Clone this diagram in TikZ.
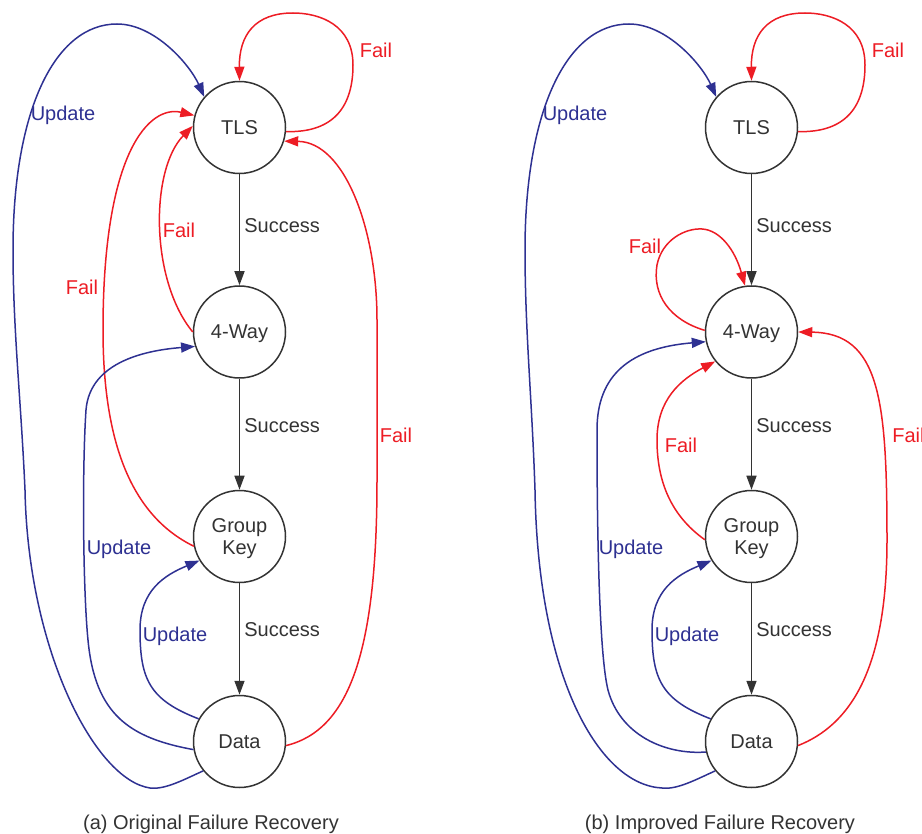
\documentclass[tikz,border=0pt]{standalone}
\usepackage{fontspec}
\setmainfont{Liberation Sans}
\usetikzlibrary{arrows.meta}
\definecolor{ublue}{RGB}{46,49,146}
\definecolor{fred}{RGB}{237,28,36}
\definecolor{ink}{RGB}{51,51,51}
\begin{document}
\begin{tikzpicture}[x=0.5pt,y=-0.5pt,
  state/.style={circle,draw=ink,line width=0.75pt,minimum size=46pt,inner sep=0pt,text=ink,font=\fontsize{10}{11}\selectfont,align=center,text depth=0pt},
  lbl/.style={font=\fontsize{10}{12}\selectfont,text height=7.2pt,text depth=0pt,inner sep=0pt},
  tip/.style={-{Triangle[length=7pt,width=5pt]}},
  succ/.style={draw=ink,line width=0.75pt,tip},
  upd/.style={draw=ublue,line width=0.75pt,tip},
  fail/.style={draw=fred,line width=0.75pt,tip},
  sl/.style={lbl,text=ink,anchor=west},
  ul/.style={lbl,text=ublue},
  fl/.style={lbl,text=fred}]
\useasboundingbox (0,0) rectangle (922,834);

% ---------- (a) ----------
\node[state] (aT) at (239.5,127.5) {TLS};
\node[state] (a4) at (239.5,332) {4-Way};
\node[state] (aG) at (239.5,536.5) {Group\\Key};
\node[state] (aD) at (239.5,741.5) {Data};

\draw[succ] (aT) -- (a4);
\draw[succ] (a4) -- (aG);
\draw[succ] (aG) -- (aD);
\node[sl] (as1) at (244,225) {Success};
\node[sl] (as2) at (244,425) {Success};
\node[sl] (as3) at (244,629) {Success};

\draw[fail] (aT.-5) .. controls (335,133) and (353,105) .. (353,65) .. controls (353,25) and (320,13) .. (293,13) .. controls (255,13) and (239,35) .. (aT.north);
\node[fl] (af1) at (376,50) {Fail};

\draw[upd] (aD.219) .. controls (185,779) and (165,790) .. (150,788) .. controls (95,780) and (28,650) .. (25,490) .. controls (21,400) and (13,330) .. (13,250) .. controls (13,110) and (55,24) .. (117,24) .. controls (155,24) and (190,65) .. (aT.139);
\node[ul] (au1) at (63,113) {Update};

\draw[fail] (aD.-5) .. controls (350,730) and (377,650) .. (377,480) -- (377,320) .. controls (377,230) and (345,142) .. (aT.-17);
\node[fl] (af2) at (396,435) {Fail};

\draw[fail] (aG.192) .. controls (130,515) and (103,440) .. (103,330) .. controls (103,150) and (150,105) .. (aT.165);
\node[fl] (af3) at (82,287) {Fail};

\draw[fail] (a4.180) .. controls (150,280) and (150,170) .. (aT.178);
\node[fl] (af4) at (179,230) {Fail};

\draw[upd] (aD.190) .. controls (130,738) and (95,715) .. (88,640) .. controls (83,590) and (82,470) .. (86,410) .. controls (90,360) and (150,350) .. (a4.198);
\node[ul] (au2) at (119,547) {Update};

\draw[upd] (aD.151) .. controls (150,700) and (140,680) .. (140,630) .. controls (140,590) and (165,575) .. (aG.211);
\node[ul] (au3) at (175,634) {Update};

\node[lbl,text=ink] (capa) at (211,822) {(a) Original Failure Recovery};

% ---------- (b) ----------
\node[state] (bT) at (751.5,127.5) {TLS};
\node[state] (b4) at (751.5,332) {4-Way};
\node[state] (bG) at (751.5,536.5) {Group\\Key};
\node[state] (bD) at (751.5,741.5) {Data};

\draw[succ] (bT) -- (b4);
\draw[succ] (b4) -- (bG);
\draw[succ] (bG) -- (bD);
\node[sl] (bs1) at (756,225) {Success};
\node[sl] (bs2) at (756,425) {Success};
\node[sl] (bs3) at (756,629) {Success};

\draw[fail] (bT.-5) .. controls (847,133) and (865,105) .. (865,65) .. controls (865,25) and (832,13) .. (805,13) .. controls (767,13) and (751,35) .. (bT.north);
\node[fl] (bf1) at (888,50) {Fail};

\draw[upd] (bD.219) .. controls (697,779) and (677,790) .. (662,788) .. controls (600,785) and (538,680) .. (535,490) .. controls (532,400) and (525,330) .. (525,250) .. controls (525,110) and (567,24) .. (629,24) .. controls (667,24) and (702,65) .. (bT.139);
\node[ul] (bu1) at (575,113) {Update};

\draw[fail] (b4.178) .. controls (670,320) and (652,295) .. (657,265) .. controls (662,240) and (685,228) .. (702,229) .. controls (720,230) and (735,250) .. (b4.98);
\node[fl] (bf2) at (645,246) {Fail};

\draw[upd] (bD.193) .. controls (665,755) and (620,735) .. (608,690) .. controls (598,650) and (597,500) .. (597,430) .. controls (597,375) and (630,348) .. (b4.192);
\node[ul] (bu2) at (631,547) {Update};

\draw[upd] (bD.151) .. controls (662,700) and (652,680) .. (652,630) .. controls (652,590) and (677,575) .. (bG.211);
\node[ul] (bu3) at (687,634) {Update};

\draw[fail] (bG.184) .. controls (670,515) and (657,480) .. (657,440) .. controls (657,400) and (680,380) .. (b4.219);
\node[fl] (bf3) at (681,445) {Fail};

\draw[fail] (bD.-5) .. controls (850,725) and (887,670) .. (887,540) .. controls (887,400) and (880,333) .. (b4.0);
\node[fl,anchor=west] (bf4) at (892,435) {Fail};

\node[lbl,text=ink] (capb) at (720,822) {(b) Improved Failure Recovery};
\end{tikzpicture}
\end{document}
